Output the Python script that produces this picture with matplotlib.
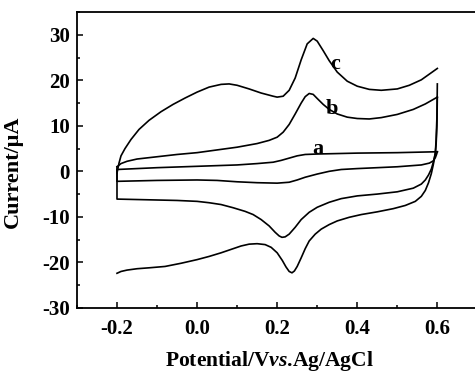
import matplotlib
matplotlib.use('Agg')
import matplotlib.pyplot as plt
from matplotlib.ticker import MultipleLocator

plt.rcParams['font.family'] = 'Liberation Serif'
plt.rcParams['font.weight'] = 'bold'
plt.rcParams['axes.unicode_minus'] = False
plt.rcParams['mathtext.fontset'] = 'custom'
plt.rcParams['mathtext.rm'] = 'Liberation Serif:bold'
plt.rcParams['mathtext.it'] = 'Liberation Serif:italic:bold'

# curve a (forward / reverse scan)
a_fwd_x = [-0.2, -0.1, 0.0, 0.1, 0.15, 0.19, 0.21, 0.23, 0.25, 0.27, 0.3, 0.4, 0.5, 0.6]
a_fwd_y = [0.4, 0.8, 1.1, 1.4, 1.7, 2.0, 2.4, 2.9, 3.4, 3.7, 3.8, 4.0, 4.1, 4.3]
a_rev_x = [0.6, 0.598, 0.595, 0.59, 0.58, 0.56, 0.5, 0.45, 0.4, 0.36, 0.33, 0.3, 0.27, 0.25,
           0.23, 0.2, 0.15, 0.1, 0.05, 0.0, -0.1, -0.2, -0.2]
a_rev_y = [4.3, 3.7, 3.0, 2.3, 1.8, 1.4, 1.0, 0.8, 0.6, 0.4, 0.0, -0.6, -1.3, -1.9,
           -2.4, -2.6, -2.5, -2.3, -2.0, -1.9, -2.0, -2.2, 0.4]

# curve b
b_fwd_x = [-0.2, -0.19, -0.175, -0.15, -0.1, -0.05, 0.0, 0.05, 0.1, 0.15, 0.18, 0.2, 0.215,
           0.23, 0.245, 0.26, 0.27, 0.28, 0.29, 0.3, 0.315, 0.33, 0.35, 0.375, 0.4, 0.43,
           0.46, 0.5, 0.54, 0.57, 0.6]
b_fwd_y = [1.0, 1.7, 2.2, 2.7, 3.2, 3.7, 4.1, 4.7, 5.3, 6.1, 6.8, 7.5, 8.6,
           10.3, 12.6, 15.0, 16.4, 17.1, 16.9, 16.0, 14.7, 13.6, 12.6, 11.9, 11.6, 11.5,
           11.8, 12.5, 13.6, 14.8, 16.3]
b_rev_x = [0.6, 0.599, 0.597, 0.595, 0.59, 0.585, 0.578, 0.57, 0.56, 0.54, 0.5, 0.45, 0.4,
           0.36, 0.33, 0.3, 0.28, 0.26, 0.245, 0.23, 0.22, 0.212, 0.205, 0.195, 0.18, 0.16,
           0.14, 0.12, 0.09, 0.06, 0.03, 0.0, -0.05, -0.1, -0.15, -0.2, -0.2]
b_rev_y = [16.3, 10.0, 6.0, 4.0, 2.0, 0.5, -0.8, -1.9, -2.8, -3.7, -4.5, -5.0, -5.4,
           -6.0, -6.8, -7.9, -9.0, -10.6, -12.3, -13.8, -14.4, -14.5, -14.2, -13.4, -12.0, -10.6,
           -9.5, -8.8, -8.0, -7.3, -6.9, -6.6, -6.4, -6.3, -6.2, -6.1, 1.0]

# curve c
c_fwd_x = [-0.2, -0.195, -0.19, -0.18, -0.165, -0.145, -0.12, -0.09, -0.06, -0.03, 0.0,
           0.03, 0.06, 0.08, 0.1, 0.13, 0.16, 0.19, 0.2, 0.215, 0.23, 0.245, 0.26, 0.275,
           0.29, 0.3, 0.315, 0.33, 0.35, 0.375, 0.4, 0.43, 0.46, 0.5, 0.53, 0.56, 0.6]
c_fwd_y = [-0.4, 1.8, 3.4, 5.0, 7.0, 9.2, 11.2, 13.1, 14.7, 16.1, 17.4,
           18.5, 19.1, 19.2, 18.9, 18.1, 17.2, 16.5, 16.3, 16.5, 17.8, 20.5, 24.5, 28.0,
           29.2, 28.6, 26.5, 24.3, 21.8, 19.8, 18.7, 18.0, 17.8, 18.1, 18.9, 20.1, 22.6]
c_rev_x = [0.6, 0.599, 0.597, 0.595, 0.59, 0.585, 0.578, 0.57, 0.56, 0.545, 0.52, 0.49,
           0.45, 0.41, 0.38, 0.35, 0.33, 0.31, 0.295, 0.28, 0.27, 0.26, 0.25, 0.243, 0.237,
           0.23, 0.222, 0.213, 0.2, 0.185, 0.17, 0.15, 0.13, 0.11, 0.09, 0.06, 0.03, 0.0,
           -0.04, -0.08, -0.12, -0.15, -0.175, -0.19, -0.2]
c_rev_y = [19.2, 12.0, 7.0, 4.0, 1.5, -0.5, -2.5, -4.2, -5.5, -6.6, -7.5, -8.2,
           -8.9, -9.5, -10.1, -10.9, -11.7, -12.7, -13.8, -15.3, -17.0, -19.0, -20.9, -21.9, -22.3,
           -22.0, -21.0, -19.6, -17.9, -16.7, -16.1, -15.9, -16.0, -16.4, -17.0, -17.9, -18.7, -19.4,
           -20.2, -20.9, -21.2, -21.4, -21.7, -22.0, -22.4]

labels = ['a', 'b', 'c']
label_x = [0.3025, 0.3375, 0.345]
label_y = [5.0, 13.7, 23.5]

fig = plt.figure(figsize=(4.75, 3.75), dpi=100)
ax = fig.add_axes([0.162, 0.179, 0.843, 0.789])

for xs, ys in [(a_fwd_x, a_fwd_y), (a_rev_x, a_rev_y),
               (b_fwd_x, b_fwd_y), (b_rev_x, b_rev_y),
               (c_fwd_x, c_fwd_y), (c_rev_x, c_rev_y)]:
    ax.plot(xs, ys, color='black', lw=1.2, solid_joinstyle='round')

for lab, lx, ly in zip(labels, label_x, label_y):
    ax.text(lx, ly, lab, fontsize=16, fontweight='bold', ha='center', va='center')

ax.set_xlim(-0.3, 0.7)
ax.set_ylim(-30, 35)
ax.xaxis.set_minor_locator(MultipleLocator(0.1))
ax.yaxis.set_minor_locator(MultipleLocator(5))
ax.set_xticks([-0.2, 0.0, 0.2, 0.4, 0.6])
ax.set_xticklabels(['-0.2', '0.0', '0.2', '0.4', '0.6'])
ax.set_yticks([-30, -20, -10, 0, 10, 20, 30])
ax.tick_params(which='both', direction='in', top=False, right=False, width=1.1)
ax.tick_params(which='major', length=4, labelsize=15)
ax.tick_params(axis='x', which='major', pad=8)
ax.tick_params(axis='y', which='major', pad=5)
ax.tick_params(which='minor', length=2.5)
for s in ax.spines.values():
    s.set_linewidth(1.3)

ax.set_xlabel(r'Potential/V$\mathit{vs}$.Ag/AgCl', fontsize=15.5, fontweight='bold')
ax.set_ylabel('Current/μA', fontsize=16, fontweight='bold')
ax.xaxis.set_label_coords(0.48, -0.14)
ax.yaxis.set_label_coords(-0.135, 0.46)

fig.savefig('out.png', dpi=100)
